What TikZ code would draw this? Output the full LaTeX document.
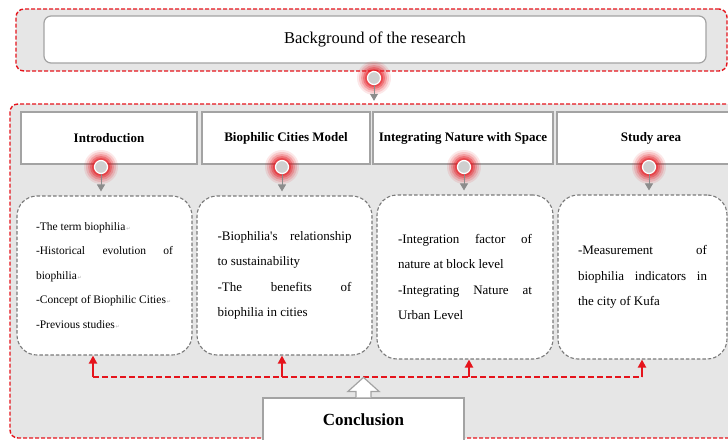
\documentclass[tikz,border=0pt]{standalone}
\usepackage{fontspec}
\setmainfont{Liberation Serif}
\newfontfamily\dejavu{DejaVu Sans}
\usetikzlibrary{arrows.meta,calc}
\definecolor{panelgray}{HTML}{E6E6E6}
\definecolor{dashred}{HTML}{E5141C}
\definecolor{edgegray}{HTML}{A3A3A3}
\definecolor{dashgray}{HTML}{7A7A7A}
\definecolor{dotgray}{HTML}{CFCFCF}
\definecolor{arrowgray}{HTML}{8C8C8C}
\newcommand{\pmark}{{\dejavu\fontsize{5}{5}\selectfont\color{black!30}\,↵}}
\newcommand{\bodysetup}{\parindent0pt\relax\tolerance10000\relax\hyphenpenalty10000\relax\exhyphenpenalty10000\relax}
\newcommand{\glowat}[2]{%
  \foreach \r/\o in {17/0.10,15/0.15,13/0.22,11/0.32,9/0.45}{\fill[dashred,opacity=\o] (#2) circle[radius=\r];}
  \node[glowdot] (#1) at (#2) {};}
\begin{document}
\begin{tikzpicture}[x=1pt,y=-1pt,
  panel/.style={draw=dashred, dash pattern=on 4pt off 2pt, line width=1.4pt, fill=panelgray, rounded corners=8pt, inner sep=0pt},
  bgbox/.style={draw=edgegray, line width=1.2pt, fill=white, rounded corners=7pt, inner sep=0pt, font={\fontsize{16.5}{18}\selectfont}},
  header/.style={draw=edgegray, line width=1.2pt, fill=white, minimum height=52pt, inner sep=0pt, font={\fontsize{13}{15}\selectfont\bfseries}},
  content/.style={draw=dashgray, dash pattern=on 3.5pt off 2pt, line width=1.1pt, fill=white, rounded corners=20pt, inner sep=0pt, align=justify},
  bodytext/.style={font={\fontsize{13}{25.5}\selectfont\bodysetup}},
  smalltext/.style={font={\fontsize{11.5}{24.5}\selectfont\bodysetup}},
  glowdot/.style={circle, fill=dotgray, draw=white, line width=1.2pt, minimum size=13pt, inner sep=0pt},
  grayarrow/.style={draw=arrowgray, line width=1pt, -{Triangle[length=7pt,width=8pt]}},
  redline/.style={draw=dashred, line width=2pt, dash pattern=on 6pt off 3pt},
  redarrow/.style={draw=dashred, line width=2pt, -{Triangle[length=8pt,width=8pt]}},
  hollow/.style={draw=edgegray, line width=1.2pt, fill=white, line join=miter}
]
\useasboundingbox (0,0) rectangle (728,439);
\clip (0,0) rectangle (728,439);

% top panel
\node[panel, minimum width=711pt, minimum height=62pt] (toppanel) at (371.5,40) {};
\node[bgbox, minimum width=662pt, minimum height=47pt] (bg) at (375,39.5) {Background of the research};

% lower panel
\node[panel, minimum width=730pt, minimum height=334pt] (lowpanel) at (375,271) {};

% headers
\node[header, minimum width=176pt] (h1) at (109,138) {Introduction};
\node[header, minimum width=168pt] (h2) at (286,138) {Biophilic Cities Model};
\node[header, minimum width=180pt] (h3) at (463,138) {Integrating Nature with Space};
\node[header, minimum width=188pt] (h4) at (651,138) {Study area};

% content boxes
\node[content, smalltext, text width=137pt, minimum width=175pt, minimum height=159pt] (c1) at (104.5,275.5)
 {-The term biophilia\pmark\par
  -Historical evolution of\linebreak biophilia\pmark\par
  -Concept of Biophilic Cities\pmark\par
  -Previous studies\pmark\par};
\node[content, bodytext, text width=134pt, minimum width=175pt, minimum height=159pt] (c2) at (284.5,275.5)
 {-Biophilia\textquotesingle s relationship\linebreak to sustainability\par
  -The benefits of\linebreak biophilia in cities\par};
\node[content, bodytext, text width=134pt, minimum width=176pt, minimum height=164pt] (c3) at (465,277)
 {-Integration factor of\linebreak nature at block level\par
  -Integrating Nature at\linebreak Urban Level\par};
\node[content, bodytext, text width=129pt, minimum width=169pt, minimum height=164pt] (c4) at (642.5,277)
 {-Measurement of\linebreak biophilia indicators in\linebreak the city of Kufa\par};

% glow dots and gray arrows
\glowat{g0}{374,78}
\glowat{g1}{101,167}
\glowat{g2}{282,167}
\glowat{g3}{464,167}
\glowat{g4}{649,167}
\draw[grayarrow, shorten >=2.5pt] (g0) -- (g0 |- lowpanel.north);
\draw[grayarrow, shorten >=4pt] (g1) -- (g1 |- c1.north);
\draw[grayarrow, shorten >=4pt] (g2) -- (g2 |- c2.north);
\draw[grayarrow, shorten >=4pt] (g3) -- (g3 |- c3.north);
\draw[grayarrow, shorten >=4pt] (g4) -- (g4 |- c4.north);

% conclusion
\node[header, minimum width=201pt, minimum height=44pt, font={\fontsize{17}{19}\selectfont\bfseries}] (concl) at (363.5,420) {Conclusion};

% red feedback connectors
\coordinate (j1) at (93,377);
\coordinate (j2) at (282,377);
\coordinate (j3) at (469,377);
\coordinate (j4) at (642,377);
\draw[redline] (j1) -- (j4);
\draw[redarrow] (j1) -- (j1 |- c1.south);
\draw[redarrow] (j2) -- (j2 |- c2.south);
\draw[redarrow] (j3) -- (j3 |- c3.south);
\draw[redarrow] (j4) -- (j4 |- c4.south);

% hollow arrow from conclusion
\draw[hollow] ($(concl.north)+(-7.5,0)$) -- ++(0,-6) -- ++(-8,0) -- ($(concl.north)+(0,-20)$)
  -- ++(15.5,14) -- ++(-8,0) -- ++(0,6);
\end{tikzpicture}
\end{document}
